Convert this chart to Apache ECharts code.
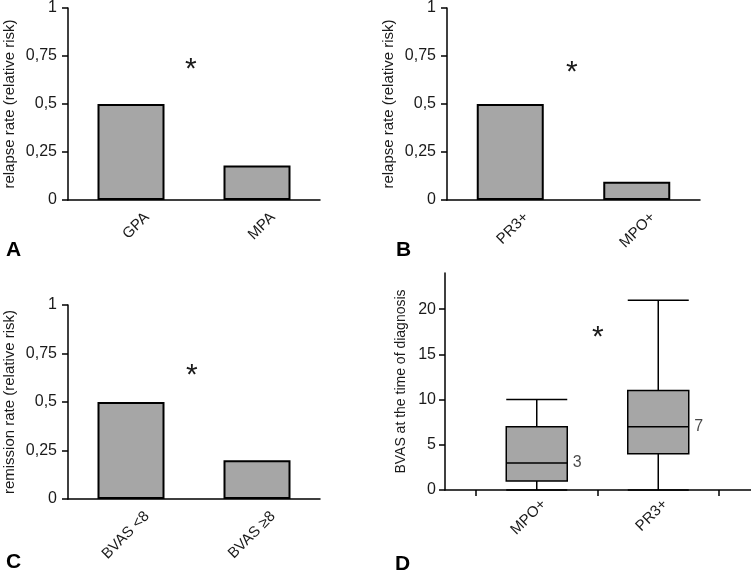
<!DOCTYPE html>
<html>
<head>
<meta charset="utf-8">
<script src="https://cdn.jsdelivr.net/npm/echarts@6/dist/echarts.min.js"></script>
<style>
html,body{margin:0;padding:0;background:#fff;}
#chart{width:751px;height:577px;}
</style>
</head>
<body>
<div id="chart"></div>
<script>
// ---- data ----
var catsA = ['GPA', 'MPA'];
var relapseA = [0.5, 0.18];
var catsB = ['PR3+', 'MPO+'];
var relapseB = [0.5, 0.095];
var catsC = ['BVAS <8', 'BVAS \u22658'];
var remissionC = [0.5, 0.2];
var catsD = ['MPO+', 'PR3+'];
// [min, Q1, median, Q3, max]
var bvasMPO = [0, 1, 3, 7, 10];
var bvasPR3 = [0, 4, 7, 11, 21];
var rateTicks = [0, 0.25, 0.5, 0.75, 1];
var bvasTicks = [0, 5, 10, 15, 20];

var FONT = 'Liberation Sans, Arial, Helvetica, sans-serif';
var TXT = '#1a1a1a';
var GRAY = '#a6a6a6';

function rateAxis(grid, name) {
  return {
    type: 'value', gridIndex: grid, min: 0, max: 1, interval: 0.25,
    name: name, nameLocation: 'middle', nameGap: 51, nameRotate: 90,
    nameTextStyle: { fontFamily: FONT, fontSize: 15, color: TXT },
    axisLine: { show: true, lineStyle: { color: '#000', width: 1.5 } },
    axisTick: { show: true, length: 6, lineStyle: { color: '#000', width: 1.5 } },
    axisLabel: { customValues: rateTicks, fontFamily: FONT, fontSize: 16, color: TXT, margin: 11,
      formatter: function (v) { return String(v).replace('.', ','); } },
    splitLine: { show: false }
  };
}
function catAxis(grid, cats) {
  return {
    type: 'category', gridIndex: grid, data: cats,
    axisLine: { show: true, onZero: false, lineStyle: { color: '#000', width: 1.5 } },
    axisTick: { show: false }, axisLabel: { show: false },
    splitLine: { show: false }
  };
}
// label-only category axis on a companion grid (shifted so labels sit like the original)
function labelAxis(grid, cats, margin) {
  return {
    type: 'category', gridIndex: grid, data: cats,
    axisLine: { show: false }, axisTick: { show: false },
    axisLabel: { interval: 0, rotate: 45, fontFamily: FONT, fontSize: 15, color: TXT, margin: margin },
    splitLine: { show: false }
  };
}
function hiddenY(grid, max) {
  return { type: 'value', gridIndex: grid, min: 0, max: max, show: false };
}
function barSeries(idx, vals) {
  return {
    type: 'bar', xAxisIndex: idx, yAxisIndex: idx, data: vals, barWidth: 67,
    itemStyle: { color: GRAY, borderColor: '#000', borderWidth: 2 },
    emphasis: { disabled: true }, silent: true
  };
}

var boxData = [bvasMPO, bvasPR3];
var medians = boxData.map(function (d, i) { return [i, d[2]]; });

var option = {
  animation: false,
  backgroundColor: '#fff',
  grid: [
    { left: 68, top: 5, width: 252, height: 195 },    // 0 A
    { left: 447, top: 5, width: 253, height: 195 },   // 1 B
    { left: 68, top: 305, width: 252, height: 194 },  // 2 C
    { left: 445, top: 273, width: 306, height: 217 }, // 3 D frame
    { left: 476, top: 273, width: 243, height: 217 }, // 4 D boxes
    { left: 84, top: 5, width: 252, height: 195 },    // 5 A labels
    { left: 463, top: 5, width: 253, height: 195 },   // 6 B labels
    { left: 84, top: 305, width: 252, height: 194 },  // 7 C labels
    { left: 483, top: 273, width: 243, height: 217 }  // 8 D labels
  ],
  xAxis: [
    catAxis(0, catsA),
    catAxis(1, catsB),
    catAxis(2, catsC),
    { type: 'value', gridIndex: 3, min: 0, max: 1,
      axisLine: { show: true, onZero: false, lineStyle: { color: '#000', width: 1.5 } },
      axisTick: { show: false }, axisLabel: { show: false }, splitLine: { show: false } },
    { type: 'category', gridIndex: 4, data: catsD,
      axisLine: { show: false },
      axisTick: { show: true, length: 6, lineStyle: { color: '#000', width: 1.5 } },
      axisLabel: { show: false }, splitLine: { show: false } },
    labelAxis(5, catsA, 15),
    labelAxis(6, catsB, 15),
    labelAxis(7, catsC, 15),
    labelAxis(8, catsD, 12)
  ],
  yAxis: [
    rateAxis(0, 'relapse rate (relative risk)'),
    rateAxis(1, 'relapse rate (relative risk)'),
    rateAxis(2, 'remission rate (relative risk)'),
    { type: 'value', gridIndex: 3, min: 0, max: 24,
      name: 'BVAS at the time of diagnosis', nameLocation: 'middle', nameGap: 37, nameRotate: 90,
      nameTextStyle: { fontFamily: FONT, fontSize: 14, color: TXT },
      axisLine: { show: true, lineStyle: { color: '#000', width: 1.5 } },
      axisTick: { show: true, length: 6, customValues: bvasTicks, lineStyle: { color: '#000', width: 1.5 } },
      axisLabel: { customValues: bvasTicks, fontFamily: FONT, fontSize: 16, color: TXT, margin: 9 },
      splitLine: { show: false } },
    { type: 'value', gridIndex: 3, min: 0, max: 24, interval: 1,
      axisLine: { show: false },
      axisTick: { show: true, length: 3.5, lineStyle: { color: '#000', width: 1.2 } },
      axisLabel: { show: false }, splitLine: { show: false } },
    hiddenY(4, 24),   // 5
    hiddenY(5, 1),    // 6
    hiddenY(6, 1),    // 7
    hiddenY(7, 1),    // 8
    hiddenY(8, 24)    // 9
  ],
  series: [
    barSeries(0, relapseA),
    barSeries(1, relapseB),
    barSeries(2, remissionC),
    { type: 'boxplot', xAxisIndex: 4, yAxisIndex: 5, data: boxData,
      boxWidth: [61, 61],
      itemStyle: { color: GRAY, borderColor: '#000', borderWidth: 1.5 },
      emphasis: { disabled: true }, silent: true },
    { type: 'scatter', xAxisIndex: 4, yAxisIndex: 5, data: medians, symbolSize: 0.1,
      label: { show: true, position: 'right', distance: 36, fontFamily: FONT, fontSize: 16, color: TXT,
        formatter: function (p) { return p.value[1]; } },
      silent: true }
  ],
  graphic: [
    { type: 'text', left: 185, top: 55, style: { text: '*', font: '30px ' + FONT, fill: TXT } },
    { type: 'text', left: 566, top: 58, style: { text: '*', font: '30px ' + FONT, fill: TXT } },
    { type: 'text', left: 186, top: 361, style: { text: '*', font: '30px ' + FONT, fill: TXT } },
    { type: 'text', left: 592, top: 323, style: { text: '*', font: '30px ' + FONT, fill: TXT } },
    { type: 'text', left: 6, top: 240, style: { text: 'A', font: 'bold 21px ' + FONT, fill: '#000' } },
    { type: 'text', left: 396, top: 240, style: { text: 'B', font: 'bold 21px ' + FONT, fill: '#000' } },
    { type: 'text', left: 6, top: 552, style: { text: 'C', font: 'bold 21px ' + FONT, fill: '#000' } },
    { type: 'text', left: 395, top: 554, style: { text: 'D', font: 'bold 21px ' + FONT, fill: '#000' } }
  ]
};

var chart = echarts.init(document.getElementById('chart'), null, { renderer: 'canvas' });
chart.setOption(option);
</script>
</body>
</html>
